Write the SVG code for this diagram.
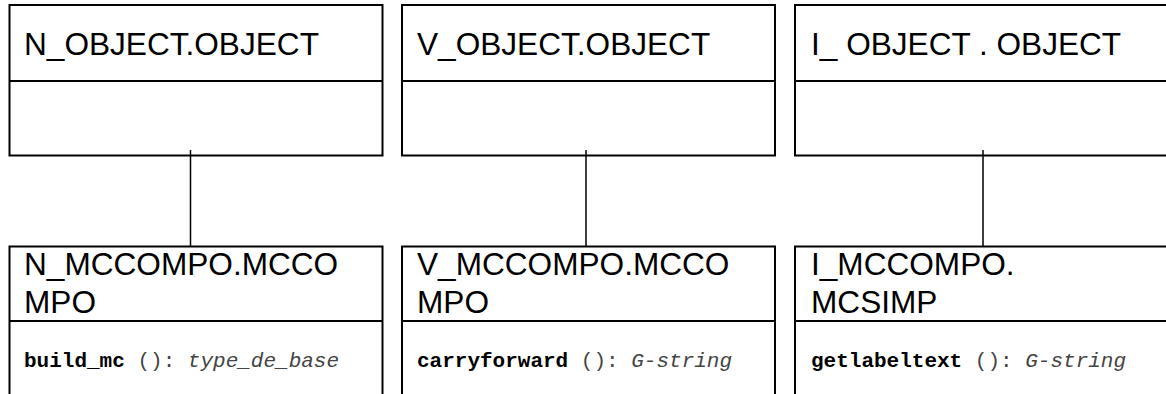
<svg xmlns="http://www.w3.org/2000/svg" width="1166" height="394" viewBox="0 0 1166 394">
<style>
.box{fill:#fff;stroke:#000;stroke-width:2}
.div{stroke:#000;stroke-width:2}
.conn{stroke:#000;stroke-width:1.5;fill:none}
.title{font-family:"Liberation Sans",Arial,sans-serif;font-size:31.6px;fill:#000}
.m{font-family:"Liberation Mono","Courier New",monospace;font-size:21px}
.mb{font-weight:bold;fill:#000}
.mr{fill:#444}
.mi{font-style:italic;fill:#444}
</style>
<rect width="1166" height="394" fill="#fff"/>
<g id="n_object">
<rect class="box" x="9.5" y="5" width="373" height="150.5"/>
<line class="div" x1="9.5" y1="81" x2="382.5" y2="81"/>
<text class="title" x="24" y="55">N_OBJECT.OBJECT</text>
</g>
<g id="v_object">
<rect class="box" x="402" y="5" width="373" height="150.5"/>
<line class="div" x1="402" y1="81" x2="775" y2="81"/>
<text class="title" x="417" y="55">V_OBJECT.OBJECT</text>
</g>
<g id="i_object">
<rect class="box" x="795" y="5" width="380" height="150.5"/>
<line class="div" x1="795" y1="81" x2="1175" y2="81"/>
<text class="title" x="811" y="55">I_ OBJECT . OBJECT</text>
</g>
<g id="n_mccompo">
<rect class="box" x="9.5" y="246.5" width="373" height="160"/>
<line class="div" x1="9.5" y1="321" x2="382.5" y2="321"/>
<text class="title" x="24" y="275">N_MCCOMPO.MCCO</text>
<text class="title" x="24" y="313">MPO</text>
<text class="m" x="24" y="367"><tspan class="mb">build_mc</tspan><tspan class="mr"> (): </tspan><tspan class="mi">type_de_base</tspan></text>
</g>
<g id="v_mccompo">
<rect class="box" x="402" y="246.5" width="373" height="160"/>
<line class="div" x1="402" y1="321" x2="775" y2="321"/>
<text class="title" x="417" y="275">V_MCCOMPO.MCCO</text>
<text class="title" x="417" y="313">MPO</text>
<text class="m" x="417" y="367"><tspan class="mb">carryforward</tspan><tspan class="mr"> (): </tspan><tspan class="mi">G-string</tspan></text>
</g>
<g id="i_mccompo">
<rect class="box" x="795" y="246.5" width="380" height="160"/>
<line class="div" x1="795" y1="321" x2="1175" y2="321"/>
<text class="title" x="811" y="275">I_MCCOMPO.</text>
<text class="title" x="811" y="313">MCSIMP</text>
<text class="m" x="811" y="367"><tspan class="mb">getlabeltext</tspan><tspan class="mr"> (): </tspan><tspan class="mi">G-string</tspan></text>
</g>
<g id="connectors">
<line class="conn" x1="190.5" y1="150" x2="190.5" y2="246.5"/>
<line class="conn" x1="586" y1="150" x2="586" y2="246.5"/>
<line class="conn" x1="983" y1="150" x2="983" y2="246.5"/>
</g>
</svg>
